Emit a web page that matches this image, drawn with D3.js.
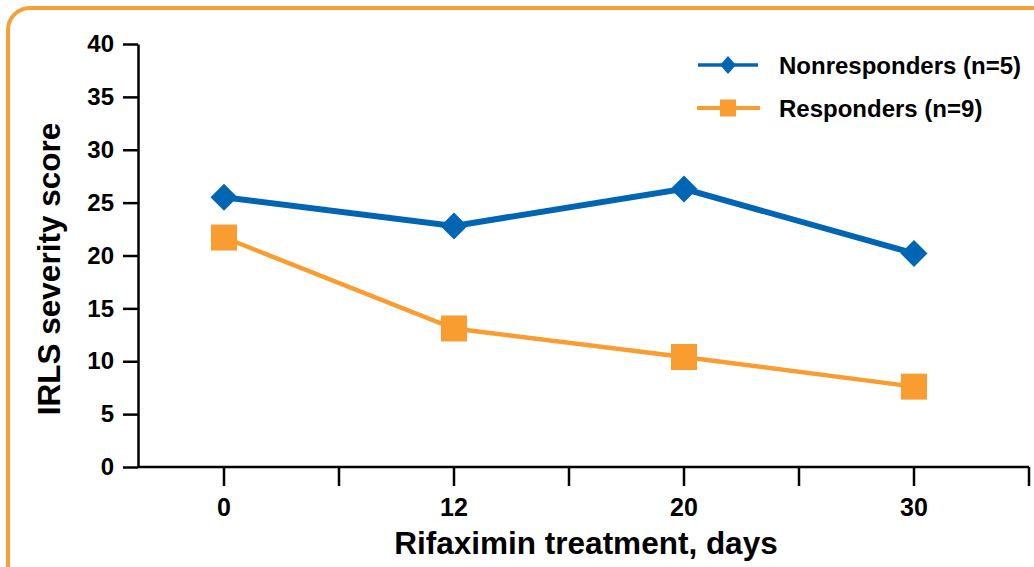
<!DOCTYPE html>
<html><head><meta charset="utf-8">
<script src="https://cdn.jsdelivr.net/npm/d3@7/dist/d3.min.js"></script>
<style>
html,body{margin:0;padding:0;background:#fff;}
svg{display:block;font-family:"Liberation Sans",Arial,sans-serif;font-weight:bold;}
</style></head>
<body>
<svg id="c" width="1034" height="567"></svg>
<script>
const categories = ["0", "12", "20", "30"];
const nonresponders = [25.5, 22.8, 26.3, 20.2];
const responders = [21.7, 13.1, 10.4, 7.6];
const yTicks = [0, 5, 10, 15, 20, 25, 30, 35, 40];
const seriesNames = ["Nonresponders (n=5)", "Responders (n=9)"];
const xTitle = "Rifaximin treatment, days";
const yTitle = "IRLS severity score";

const BLUE = "#0066b3", ORANGE = "#f99d31";
const svg = d3.select("#c");

// frame
svg.append("rect").attr("x", 8).attr("y", 8).attr("width", 1060).attr("height", 620)
  .attr("rx", 22).attr("fill", "none").attr("stroke", "#f8a035").attr("stroke-width", 4);

const x = d3.scalePoint().domain(categories).range([109, 1029]).padding(0.5);
const y = d3.scaleLinear().domain([0, 40]).range([467, 44]);
const step = x.step();

// y axis
const yAxis = svg.append("g").attr("transform", "translate(138,0)")
  .call(d3.axisLeft(y).tickValues(yTicks).tickSize(15).tickPadding(9).tickSizeOuter(0));
yAxis.selectAll("path, line").attr("stroke", "#000").attr("stroke-width", 2.5);
yAxis.selectAll("text").attr("font-size", 24).attr("fill", "#000")
  .attr("font-family", "Liberation Sans, Arial, sans-serif").attr("font-weight", "bold");

// x axis line
svg.append("line").attr("x1", 138).attr("x2", x(categories[categories.length - 1]) + step / 2)
  .attr("y1", y(0)).attr("y2", y(0)).attr("stroke", "#000").attr("stroke-width", 2.5);
// x ticks at category centers and boundaries
const tickXs = [];
categories.forEach(c => { tickXs.push(x(c)); tickXs.push(x(c) + step / 2); });
svg.append("g").selectAll("line").data(tickXs).join("line")
  .attr("x1", d => d).attr("x2", d => d).attr("y1", y(0)).attr("y2", y(0) + 19)
  .attr("stroke", "#000").attr("stroke-width", 2.5);
svg.append("g").selectAll("text").data(categories).join("text")
  .attr("x", d => x(d)).attr("y", 516).attr("text-anchor", "middle")
  .attr("font-size", 25).attr("fill", "#000").text(d => d);

// titles
svg.append("text").attr("x", 586).attr("y", 554).attr("text-anchor", "middle")
  .attr("font-size", 31.5).attr("fill", "#000").text(xTitle);
svg.append("text").attr("transform", "translate(60,269) rotate(-90)").attr("text-anchor", "middle")
  .attr("font-size", 31.5).attr("fill", "#000").text(yTitle);

const line = d3.line().x((d, i) => x(categories[i])).y(d => y(d));

// responders
svg.append("path").datum(responders).attr("d", line).attr("fill", "none")
  .attr("stroke", ORANGE).attr("stroke-width", 4.5);
svg.append("g").selectAll("rect").data(responders).join("rect")
  .attr("x", (d, i) => x(categories[i]) - 13).attr("y", d => y(d) - 13)
  .attr("width", 26).attr("height", 26).attr("fill", ORANGE);

// nonresponders
svg.append("path").datum(nonresponders).attr("d", line).attr("fill", "none")
  .attr("stroke", BLUE).attr("stroke-width", 6);
const dm = 13.5;
svg.append("g").selectAll("path").data(nonresponders).join("path")
  .attr("d", (d, i) => {
    const cx = x(categories[i]), cy = y(d);
    return `M${cx},${cy - dm}L${cx + dm},${cy}L${cx},${cy + dm}L${cx - dm},${cy}Z`;
  }).attr("fill", BLUE);

// legend
const lg = svg.append("g");
const ly = [65, 108];
lg.append("line").attr("x1", 698).attr("x2", 758).attr("y1", ly[0]).attr("y2", ly[0])
  .attr("stroke", BLUE).attr("stroke-width", 3.5);
lg.append("path").attr("d", `M728,${ly[0] - 9}L736,${ly[0]}L728,${ly[0] + 9}L720,${ly[0]}Z`).attr("fill", BLUE);
lg.append("line").attr("x1", 697).attr("x2", 760).attr("y1", ly[1]).attr("y2", ly[1])
  .attr("stroke", ORANGE).attr("stroke-width", 4);
lg.append("rect").attr("x", 720).attr("y", ly[1] - 8.5).attr("width", 16).attr("height", 17).attr("fill", ORANGE);
lg.selectAll("text").data(seriesNames).join("text")
  .attr("x", 779).attr("y", (d, i) => ly[i] + 8.5)
  .attr("font-size", 24).attr("fill", "#000").text(d => d);
</script>
</body></html>
